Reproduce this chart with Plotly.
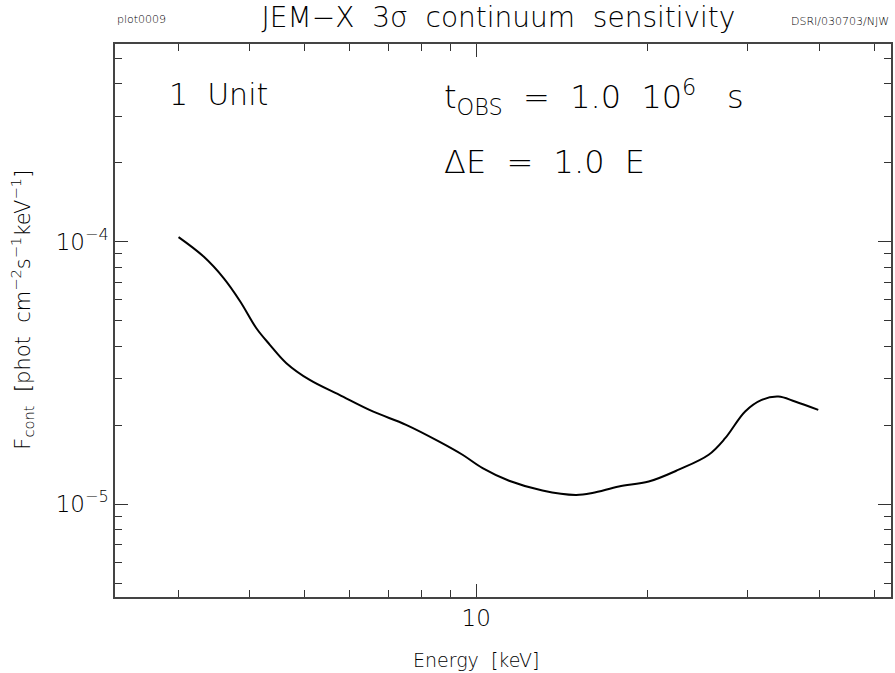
import plotly.graph_objects as go

# Data
energy_keV = [3.0, 3.32, 3.60, 3.85, 4.11, 4.34, 4.64, 5.10, 5.75, 6.58, 7.53, 8.61, 9.46,
              10.26, 11.42, 13.07, 14.95, 15.99, 17.80, 20.09, 22.67, 25.6, 27.37, 29.67,
              31.72, 33.94, 36.3, 39.88]
log_flux = [-3.983, -4.057, -4.139, -4.228, -4.330, -4.393, -4.463, -4.527, -4.584, -4.647,
            -4.698, -4.762, -4.812, -4.863, -4.911, -4.948, -4.965, -4.958, -4.933, -4.914,
            -4.869, -4.812, -4.749, -4.647, -4.603, -4.590, -4.609, -4.641]
flux = [10 ** v for v in log_flux]

x_major = [10]
x_major_text = ["10"]
x_minor = [3, 4, 5, 6, 7, 8, 9, 20, 30, 40, 50]
y_major = [1e-5, 1e-4]
y_major_text = ["10<sup>\u22125</sup>", "10<sup>\u22124</sup>"]
y_minor = [m * 10 ** e for e in (-6, -5, -4) for m in range(2, 10)]

FONT = "DejaVu Sans"
INK = "black"
W = 300

fig = go.Figure()
fig.add_trace(go.Scatter(x=energy_keV, y=flux, mode="lines",
                         line=dict(color="black", width=2, shape="spline", smoothing=1.0),
                         showlegend=False, hoverinfo="skip"))

axis_common = dict(showgrid=False, zeroline=False, showline=True, linecolor="#444444",
                   linewidth=1.5, mirror="allticks", ticks="inside", ticklen=13,
                   tickwidth=1.2, tickcolor="#333333",
                   tickfont=dict(family=FONT, size=23, color=INK, weight=W))

fig.update_xaxes(type="log", range=[0.3655, 1.7285], tickmode="array",
                 tickvals=x_major, ticktext=x_major_text,
                 minor=dict(tickmode="array", tickvals=x_minor, ticks="inside",
                            ticklen=7, tickwidth=1.2, tickcolor="#333333"),
                 **axis_common)
fig.update_yaxes(type="log", range=[-5.354, -3.247], tickmode="array",
                 tickvals=y_major, ticktext=y_major_text,
                 minor=dict(tickmode="array", tickvals=y_minor, ticks="inside",
                            ticklen=7, tickwidth=1.2, tickcolor="#333333"),
                 **axis_common)

def f(size):
    return dict(family=FONT, size=size, color=INK, weight=W)

ann = []
ann.append(dict(text="plot0009", x=0, y=1.0434, xref="paper", yref="paper",
                xanchor="left", yanchor="middle", showarrow=False, font=f(11)))
ann.append(dict(text="DSRI/030703/NJW", x=1, y=1.0398, xref="paper", yref="paper",
                xanchor="right", yanchor="middle", showarrow=False, font=f(11)))
ann.append(dict(text="1  Unit", x=0.067, y=0.908, xref="paper", yref="paper",
                xanchor="left", yanchor="middle", showarrow=False, font=f(30)))
ann.append(dict(text="t<sub>OBS</sub>  =  1.0  10<sup>6</sup>   s", x=0.4216, y=0.904,
                xref="paper", yref="paper", xanchor="left", yanchor="middle",
                showarrow=False, font=f(32)))
ann.append(dict(text="\u0394E  =  1.0  E", x=0.4216, y=0.7866, xref="paper", yref="paper",
                xanchor="left", yanchor="middle", showarrow=False, font=f(32)))
ann.append(dict(text="F<sub>cont</sub>  [phot  cm<sup>\u22122</sup>s<sup>\u22121</sup>keV<sup>\u22121</sup>]",
                x=-0.1195, y=0.52, xref="paper", yref="paper", textangle=-90,
                xanchor="center", yanchor="middle", showarrow=False, font=f(21)))
ann.append(dict(text="Energy  [keV]", x=0.465, y=-0.114, xref="paper", yref="paper",
                xanchor="center", yanchor="middle", showarrow=False, font=f(19)))

fig.update_layout(
    width=895, height=673,
    margin=dict(l=115, r=2, t=44, b=76),
    paper_bgcolor="white", plot_bgcolor="white",
    title=dict(text="JEM\u2212X  3\u03c3  continuum  sensitivity", x=0.557, y=0.9747,
               xanchor="center", yanchor="middle", font=f(28)),
    annotations=ann,
)

fig.write_html("out.html")
